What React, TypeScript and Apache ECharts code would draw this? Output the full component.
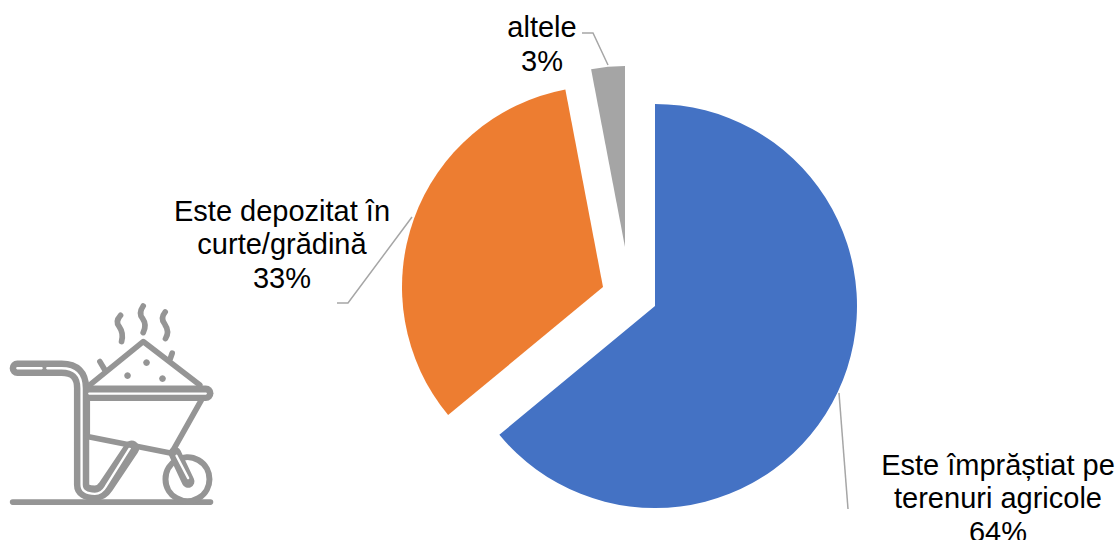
import React, { useEffect, useRef } from "react";
import * as echarts from "echarts";

const categories = ["Este împrăștiat pe\nterenuri agricole", "Este depozitat în\ncurte/grădină", "altele"];
const values = [64, 33, 3];
const colors = ["#4472C4", "#ED7D31", "#A5A5A5"];
const centers = [[655, 306], [603, 287], [625, 247]];
const radii = [202, 201, 181];
const labelCenters = [[998, 498], [282, 244], [542, 44]];
const leaderLines = [
  [[839, 393], [848, 509], [848, 509]],
  [[412, 217], [348, 303], [337, 303]],
  [[608, 65], [593, 33], [582, 33]],
];

const GRAY = "#959595";
const reg = (name: string, d: string) =>
  echarts.graphic.registerShape(name, echarts.graphic.extendPath(d, {}) as any);

const tube = "M52 235 H185 Q245 235 245 295 V585 Q245 610 285 610 Q305 610 318 590 L395 475";
const rim = "M255 310 H618";
const slit = "M52 235 H125 M142 235 H185 Q245 235 245 295 V585 Q245 612 285 612 Q305 612 318 590 L390 475 M268 311 H618";
const thin =
  "M38 637 H632 M270 285 L430 155 L600 285 M262 330 V440 L515 490 L605 330 M300 215 L315 240 M517 190 L510 210 " +
  "M362 76 Q345 95 358 110 Q372 130 365 155 M430 48 Q415 70 428 85 Q442 105 430 128 M496 66 Q480 85 495 103 Q510 125 497 146";
const axle = "M525 490 L565 575";
const axleSlit = "M530 498 L565 565";

export default function App() {
  const ref = useRef<HTMLDivElement>(null);
  useEffect(() => {
    reg("iconTube", tube);
    reg("iconRim", rim);
    reg("iconSlit", slit);
    reg("iconThin", thin);
    reg("iconAxle", axle);
    reg("iconAxleSlit", axleSlit);
    const chart = echarts.init(ref.current!, null, { renderer: "svg" });
    const stroke = (w: number, c = GRAY) => ({ fill: "none", stroke: c, lineWidth: w, lineCap: "round", lineJoin: "round" });
    chart.setOption({
      animation: false,
      backgroundColor: "#ffffff",
      series: values.map((_, s) => ({
        type: "pie",
        center: centers[s],
        radius: [0, radii[s]],
        startAngle: 90,
        clockwise: true,
        avoidLabelOverlap: false,
        silent: true,
        label: {
          show: true,
          formatter: "{b}\n{d}%",
          fontFamily: "Liberation Sans",
          fontSize: 29,
          lineHeight: 33.5,
          color: "#000000",
          align: "center",
        },
        labelLine: { show: true, lineStyle: { color: "#A6A6A6", width: 1.5 } },
        labelLayout: (p: any) =>
          p.dataIndex === s
            ? {
                x: labelCenters[s][0],
                y: labelCenters[s][1],
                align: "center",
                verticalAlign: "middle",
                labelLinePoints: leaderLines[s],
              }
            : {},
        data: categories.map((name, i) => ({
          name,
          value: values[i],
          itemStyle: { color: i === s ? colors[i] : "transparent" },
          label: { show: i === s },
          labelLine: { show: i === s },
        })),
      })),
      graphic: [
        {
          type: "group",
          x: 0,
          y: 290,
          scaleX: 1 / 3,
          scaleY: 1 / 3,
          silent: true,
          children: [
            { type: "iconTube", style: stroke(46) },
            { type: "iconRim", style: stroke(46) },
            { type: "iconSlit", style: stroke(7, "#ffffff") },
            { type: "iconThin", style: stroke(17) },
            { type: "circle", shape: { cx: 563, cy: 568, r: 66 }, style: { fill: "#ffffff", stroke: GRAY, lineWidth: 18 } },
            { type: "iconAxle", style: stroke(38) },
            { type: "iconAxleSlit", style: stroke(7, "#ffffff") },
            { type: "circle", shape: { cx: 440, cy: 218, r: 10 }, style: { fill: GRAY } },
            { type: "circle", shape: { cx: 383, cy: 257, r: 10 }, style: { fill: GRAY } },
            { type: "circle", shape: { cx: 488, cy: 266, r: 10 }, style: { fill: GRAY } },
          ],
        },
      ],
    });
    return () => chart.dispose();
  }, []);
  return <div ref={ref} style={{ position: "fixed", left: 0, top: 0, width: 1119, height: 540 }} />;
}
